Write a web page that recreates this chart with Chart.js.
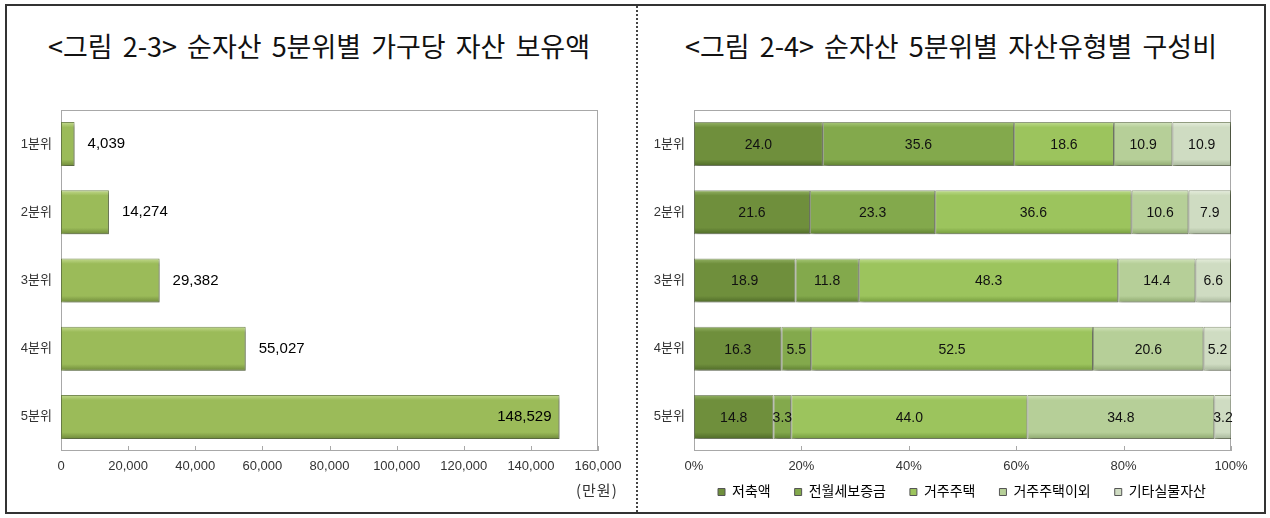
<!DOCTYPE html>
<html>
<head>
<meta charset="utf-8">
<script src="https://cdn.jsdelivr.net/npm/chart.js@4.4.1/dist/chart.umd.min.js"></script>
<style>
  body { margin: 0; background: #fff; width: 1270px; height: 518px; position: relative; overflow: hidden; font-family: "Noto Sans CJK KR", sans-serif; }
  #frame { position: absolute; left: 5px; top: 4px; width: 1257px; height: 506px; border: 2px solid #333; }
  #divider { position: absolute; left: 636px; top: 6px; height: 506px; border-left: 2px dotted #444; }
  .title { position: absolute; top: 26px; font-size: 27px; color: #111; text-align: center; white-space: pre; word-spacing: 4px; }
  #t1 { left: 0; width: 638px; }
  #t2 { left: 637px; width: 628px; }
  #unit { position: absolute; left: 576px; top: 479px; font-size: 15px; letter-spacing: 1px; color: #333; }
  canvas { position: absolute; top: 0; }
  #left { left: 0; }
  #right { left: 637px; }
</style>
</head>
<body>
<div id="frame"></div>
<div id="divider"></div>
<div class="title" id="t1">&lt;그림 2-3&gt; 순자산 5분위별 가구당 자산 보유액</div>
<div class="title" id="t2">&lt;그림 2-4&gt; 순자산 5분위별 자산유형별 구성비</div>
<canvas id="left" width="636" height="518"></canvas>
<canvas id="right" width="633" height="524"></canvas>
<div id="unit">(만원)</div>
<script>
// 순자산 5분위
const quintiles = ["1분위", "2분위", "3분위", "4분위", "5분위"];

// 그림 2-3 : 가구당 자산 보유액 (만원)
const assetPerHousehold = [4039, 14274, 29382, 55027, 148529];

// 그림 2-4 : 자산유형별 구성비 (%)
const assetTypes = ["저축액", "전월세보증금", "거주주택", "거주주택이외", "기타실물자산"];
const savings = [24.0, 21.6, 18.9, 16.3, 14.8];
const leaseDeposit = [35.6, 23.3, 11.8, 5.5, 3.3];
const ownHouse = [18.6, 36.6, 48.3, 52.5, 44.0];
const otherHouse = [10.9, 10.6, 14.4, 20.6, 34.8];
const otherReal = [10.9, 7.9, 6.6, 5.2, 3.2];

const FONT = '"Liberation Sans", "Noto Sans CJK KR", sans-serif';

// bevel-like fill for each horizontal bar
function barFill(base, light, dark) {
  return (c) => {
    const chart = c.chart;
    const y = chart.scales.y;
    if (!y || c.type !== 'data') return base;
    const mid = y.getPixelForValue(c.dataIndex);
    if (!isFinite(mid)) return base;
    const g = chart.ctx.createLinearGradient(0, mid - 22, 0, mid + 22);
    g.addColorStop(0, light);
    g.addColorStop(0.12, base);
    g.addColorStop(0.85, base);
    g.addColorStop(1, dark);
    return g;
  };
}

// plot box, inward ticks and bar shadow
const plotFrame = {
  id: 'plotFrame',
  beforeDatasetsDraw(chart) {
    const { ctx, chartArea: a } = chart;
    ctx.save();
    ctx.strokeStyle = '#a8a8a8';
    ctx.lineWidth = 1;
    ctx.strokeRect(a.left + 0.5, a.top + 0.5, a.width - 1, a.height - 1);
    const xs = chart.scales.x;
    xs.ticks.forEach((t) => {
      const px = Math.round(xs.getPixelForValue(t.value)) + 0.5;
      ctx.beginPath();
      ctx.moveTo(px, a.bottom - 5);
      ctx.lineTo(px, a.bottom);
      ctx.stroke();
    });
    ctx.restore();
    ctx.save();
    ctx.shadowColor = 'rgba(0,0,0,0.35)';
    ctx.shadowOffsetX = 2;
    ctx.shadowOffsetY = 2;
    ctx.shadowBlur = 3;
  },
  afterDatasetsDraw(chart) {
    chart.ctx.restore();
  }
};

// move the legend up under the axis labels, centred on the plot
const legendLift = {
  id: 'legendLift',
  afterLayout(chart) {
    const lg = chart.legend;
    if (lg) {
      lg.top -= 15;
      lg.bottom -= 15;
      lg.left += 28;
      lg.right += 28;
    }
  }
};

const amountLabels = {
  id: 'amountLabels',
  afterDatasetsDraw(chart) {
    const ctx = chart.ctx;
    const meta = chart.getDatasetMeta(0);
    ctx.save();
    ctx.font = '15px ' + FONT;
    ctx.fillStyle = '#000';
    ctx.textBaseline = 'middle';
    meta.data.forEach((bar, i) => {
      const txt = assetPerHousehold[i].toLocaleString('en-US');
      const w = ctx.measureText(txt).width;
      if (bar.x + 13 + w > chart.chartArea.right) {
        ctx.textAlign = 'right';
        ctx.fillText(txt, bar.x - 8, bar.y);
      } else {
        ctx.textAlign = 'left';
        ctx.fillText(txt, bar.x + 13, bar.y);
      }
    });
    ctx.restore();
  }
};

const shareLabels = {
  id: 'shareLabels',
  afterDatasetsDraw(chart) {
    const ctx = chart.ctx;
    ctx.save();
    ctx.font = '14px ' + FONT;
    ctx.fillStyle = '#111';
    ctx.textAlign = 'center';
    ctx.textBaseline = 'middle';
    chart.data.datasets.forEach((ds, d) => {
      chart.getDatasetMeta(d).data.forEach((bar, i) => {
        ctx.fillText(ds.data[i].toFixed(1), (bar.x + bar.base) / 2, bar.y + 1);
      });
    });
    ctx.restore();
  }
};

new Chart(document.getElementById('left'), {
  type: 'bar',
  data: {
    labels: quintiles,
    datasets: [{
      label: '가구당 자산 보유액',
      data: assetPerHousehold,
      backgroundColor: barFill('#9bbb59', '#c3da8e', '#6f8a3a'),
      borderColor: 'rgba(90,115,45,0.8)',
      borderWidth: 1,
      borderSkipped: false,
      categoryPercentage: 1,
      barPercentage: 0.645
    }]
  },
  options: {
    indexAxis: 'y',
    responsive: false,
    animation: false,
    layout: { padding: { left: 0, right: 38, top: 110, bottom: 37 } },
    plugins: { legend: { display: false }, tooltip: { enabled: false } },
    scales: {
      x: {
        min: 0, max: 160000,
        grid: { display: false, drawTicks: false }, border: { display: false },
        ticks: { stepSize: 20000, color: '#333', padding: 8, font: { size: 13, family: FONT },
                 callback: (v) => v.toLocaleString('en-US') },
        afterFit: (s) => { s.height = 30; }
      },
      y: {
        grid: { display: false, drawTicks: false }, border: { display: false },
        ticks: { color: '#333', padding: 9, font: { size: 13, family: FONT } },
        afterFit: (s) => { s.width = 61; }
      }
    }
  },
  plugins: [plotFrame, amountLabels]
});

const shareColors = [
  ['#6f8f3c', '#95b366', '#4f6a28'],
  ['#83a94c', '#a9c97a', '#5e7f31'],
  ['#9cc45d', '#c0dd8f', '#749a3d'],
  ['#b6cf98', '#d3e4bd', '#8ea86f'],
  ['#cfdcc2', '#e6eedd', '#a7b69a']
];
const shareSeries = [savings, leaseDeposit, ownHouse, otherHouse, otherReal];

new Chart(document.getElementById('right'), {
  type: 'bar',
  data: {
    labels: quintiles,
    datasets: assetTypes.map((name, k) => ({
      label: name,
      data: shareSeries[k],
      backgroundColor: barFill(shareColors[k][0], shareColors[k][1], shareColors[k][2]),
      borderColor: 'rgba(60,80,30,0.55)',
      borderWidth: 1,
      borderSkipped: false,
      categoryPercentage: 1,
      barPercentage: 0.645
    }))
  },
  options: {
    indexAxis: 'y',
    responsive: false,
    animation: false,
    layout: { padding: { left: 0, right: 39, top: 110, bottom: 0 } },
    plugins: {
      tooltip: { enabled: false },
      legend: {
        position: 'bottom',
        labels: {
          boxWidth: 7, boxHeight: 7, padding: 24, color: '#222',
          font: { size: 14, family: FONT },
          generateLabels: (chart) => chart.data.datasets.map((ds, k) => ({
            text: ds.label,
            fillStyle: shareColors[k][0],
            strokeStyle: '#555',
            lineWidth: 1,
            datasetIndex: k
          }))
        }
      }
    },
    scales: {
      x: {
        stacked: true, min: 0, max: 100,
        grid: { display: false, drawTicks: false }, border: { display: false },
        ticks: { stepSize: 20, color: '#333', padding: 8, font: { size: 13, family: FONT },
                 callback: (v) => v + '%' },
        afterFit: (s) => { s.height = 25; }
      },
      y: {
        stacked: true,
        grid: { display: false, drawTicks: false }, border: { display: false },
        ticks: { color: '#333', padding: 9, font: { size: 13, family: FONT } },
        afterFit: (s) => { s.width = 57; }
      }
    }
  },
  plugins: [plotFrame, shareLabels, legendLift]
});
</script>
</body>
</html>
